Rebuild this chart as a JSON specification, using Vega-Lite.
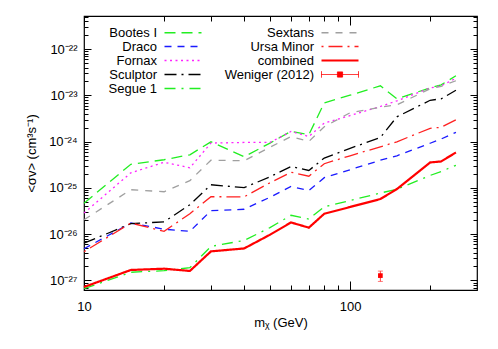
{
  "$schema": "https://vega.github.io/schema/vega-lite/v6.json",
  "width": 393,
  "height": 274,
  "autosize": {"type": "none"},
  "padding": {"left": 84, "top": 16, "right": 21, "bottom": 59},
  "config": {
    "view": {"stroke": "#000", "strokeWidth": 1.2},
    "font": "Liberation Sans",
    "axis": {"domain": false, "grid": false, "labelFont": "Liberation Sans", "labelFontSize": 13, "labelColor": "#000", "tickColor": "#000", "tickWidth": 1, "titleFont": "Liberation Sans", "titleFontSize": 13, "titleFontWeight": "normal", "titleColor": "#000", "labelFlush": false, "labelOverlap": false},
    "legend": {"labelAlign": "right", "labelOffset": -32.5, "symbolOffset": 122.5, "symbolSize": 100, "symbolStrokeWidth": 1.5, "rowPadding": -1.7, "columnPadding": 6, "labelFontSize": 13, "labelFont": "Liberation Sans", "labelColor": "#000", "padding": 0, "labelLimit": 0}
  },
  "datasets": {
    "lim": [
      {"series": "Bootes I", "mass": 10, "sigma": 4.66e-26}, {"series": "Bootes I", "mass": 15, "sigma": 3.24e-25}, {"series": "Bootes I", "mass": 20, "sigma": 4.06e-25}, {"series": "Bootes I", "mass": 25, "sigma": 5.2e-25}, {"series": "Bootes I", "mass": 30, "sigma": 9.9e-25}, {"series": "Bootes I", "mass": 40, "sigma": 4.7e-25}, {"series": "Bootes I", "mass": 50, "sigma": 9.3e-25}, {"series": "Bootes I", "mass": 60, "sigma": 1.67e-24}, {"series": "Bootes I", "mass": 70, "sigma": 1.41e-24}, {"series": "Bootes I", "mass": 80, "sigma": 6.9e-24}, {"series": "Bootes I", "mass": 100, "sigma": 1.01e-23}, {"series": "Bootes I", "mass": 130, "sigma": 1.61e-23}, {"series": "Bootes I", "mass": 150, "sigma": 8.4e-24}, {"series": "Bootes I", "mass": 200, "sigma": 1.46e-23}, {"series": "Bootes I", "mass": 220, "sigma": 1.69e-23}, {"series": "Bootes I", "mass": 250, "sigma": 2.65e-23},
      {"series": "Draco", "mass": 10, "sigma": 4.84e-27}, {"series": "Draco", "mass": 15, "sigma": 1.74e-26}, {"series": "Draco", "mass": 20, "sigma": 1.28e-26}, {"series": "Draco", "mass": 25, "sigma": 1.15e-26}, {"series": "Draco", "mass": 30, "sigma": 3.21e-26}, {"series": "Draco", "mass": 40, "sigma": 3.45e-26}, {"series": "Draco", "mass": 50, "sigma": 6.28e-26}, {"series": "Draco", "mass": 60, "sigma": 1.07e-25}, {"series": "Draco", "mass": 70, "sigma": 8.81e-26}, {"series": "Draco", "mass": 80, "sigma": 1.66e-25}, {"series": "Draco", "mass": 100, "sigma": 2.47e-25}, {"series": "Draco", "mass": 130, "sigma": 3.96e-25}, {"series": "Draco", "mass": 150, "sigma": 4.95e-25}, {"series": "Draco", "mass": 200, "sigma": 9.22e-25}, {"series": "Draco", "mass": 220, "sigma": 1.14e-24}, {"series": "Draco", "mass": 250, "sigma": 1.59e-24},
      {"series": "Fornax", "mass": 10, "sigma": 2.86e-26}, {"series": "Fornax", "mass": 15, "sigma": 2.12e-25}, {"series": "Fornax", "mass": 20, "sigma": 3.58e-25}, {"series": "Fornax", "mass": 25, "sigma": 2.72e-25}, {"series": "Fornax", "mass": 30, "sigma": 9.31e-25}, {"series": "Fornax", "mass": 40, "sigma": 9.59e-25}, {"series": "Fornax", "mass": 50, "sigma": 9.6e-25}, {"series": "Fornax", "mass": 60, "sigma": 1.66e-24}, {"series": "Fornax", "mass": 70, "sigma": 1.29e-24}, {"series": "Fornax", "mass": 80, "sigma": 2.52e-24}, {"series": "Fornax", "mass": 100, "sigma": 3.66e-24}, {"series": "Fornax", "mass": 130, "sigma": 5.75e-24}, {"series": "Fornax", "mass": 150, "sigma": 7.63e-24}, {"series": "Fornax", "mass": 200, "sigma": 1.44e-23}, {"series": "Fornax", "mass": 220, "sigma": 1.61e-23}, {"series": "Fornax", "mass": 250, "sigma": 2.34e-23},
      {"series": "Sculptor", "mass": 10, "sigma": 6.37e-27}, {"series": "Sculptor", "mass": 15, "sigma": 1.68e-26}, {"series": "Sculptor", "mass": 20, "sigma": 1.85e-26}, {"series": "Sculptor", "mass": 25, "sigma": 4.32e-26}, {"series": "Sculptor", "mass": 30, "sigma": 1.17e-25}, {"series": "Sculptor", "mass": 40, "sigma": 1.01e-25}, {"series": "Sculptor", "mass": 50, "sigma": 1.74e-25}, {"series": "Sculptor", "mass": 60, "sigma": 2.9e-25}, {"series": "Sculptor", "mass": 70, "sigma": 2.38e-25}, {"series": "Sculptor", "mass": 80, "sigma": 4.41e-25}, {"series": "Sculptor", "mass": 100, "sigma": 7.15e-25}, {"series": "Sculptor", "mass": 130, "sigma": 1.23e-24}, {"series": "Sculptor", "mass": 150, "sigma": 3.44e-24}, {"series": "Sculptor", "mass": 200, "sigma": 7.83e-24}, {"series": "Sculptor", "mass": 220, "sigma": 8.43e-24}, {"series": "Sculptor", "mass": 250, "sigma": 1.29e-23},
      {"series": "Segue 1", "mass": 10, "sigma": 6.62e-28}, {"series": "Segue 1", "mass": 15, "sigma": 1.5e-27}, {"series": "Segue 1", "mass": 20, "sigma": 1.62e-27}, {"series": "Segue 1", "mass": 25, "sigma": 1.88e-27}, {"series": "Segue 1", "mass": 30, "sigma": 5.43e-27}, {"series": "Segue 1", "mass": 40, "sigma": 7.31e-27}, {"series": "Segue 1", "mass": 50, "sigma": 1.38e-26}, {"series": "Segue 1", "mass": 60, "sigma": 2.56e-26}, {"series": "Segue 1", "mass": 70, "sigma": 2.12e-26}, {"series": "Segue 1", "mass": 80, "sigma": 3.91e-26}, {"series": "Segue 1", "mass": 100, "sigma": 5.32e-26}, {"series": "Segue 1", "mass": 130, "sigma": 7.74e-26}, {"series": "Segue 1", "mass": 150, "sigma": 9.35e-26}, {"series": "Segue 1", "mass": 200, "sigma": 1.86e-25}, {"series": "Segue 1", "mass": 220, "sigma": 2.26e-25}, {"series": "Segue 1", "mass": 250, "sigma": 3.08e-25},
      {"series": "Sextans", "mass": 10, "sigma": 2.05e-26}, {"series": "Sextans", "mass": 15, "sigma": 9.12e-26}, {"series": "Sextans", "mass": 20, "sigma": 8.26e-26}, {"series": "Sextans", "mass": 25, "sigma": 1.43e-25}, {"series": "Sextans", "mass": 30, "sigma": 3.96e-25}, {"series": "Sextans", "mass": 40, "sigma": 3.86e-25}, {"series": "Sextans", "mass": 50, "sigma": 7.55e-25}, {"series": "Sextans", "mass": 60, "sigma": 1.29e-24}, {"series": "Sextans", "mass": 70, "sigma": 1.01e-24}, {"series": "Sextans", "mass": 80, "sigma": 2.1e-24}, {"series": "Sextans", "mass": 100, "sigma": 4.21e-24}, {"series": "Sextans", "mass": 130, "sigma": 5.53e-24}, {"series": "Sextans", "mass": 150, "sigma": 6.26e-24}, {"series": "Sextans", "mass": 200, "sigma": 1.39e-23}, {"series": "Sextans", "mass": 220, "sigma": 1.57e-23}, {"series": "Sextans", "mass": 250, "sigma": 2.07e-23},
      {"series": "Ursa Minor", "mass": 10, "sigma": 4.17e-27}, {"series": "Ursa Minor", "mass": 15, "sigma": 1.74e-26}, {"series": "Ursa Minor", "mass": 20, "sigma": 1.15e-26}, {"series": "Ursa Minor", "mass": 25, "sigma": 2.76e-26}, {"series": "Ursa Minor", "mass": 30, "sigma": 6.44e-26}, {"series": "Ursa Minor", "mass": 40, "sigma": 6.4e-26}, {"series": "Ursa Minor", "mass": 50, "sigma": 1.29e-25}, {"series": "Ursa Minor", "mass": 60, "sigma": 2.18e-25}, {"series": "Ursa Minor", "mass": 70, "sigma": 1.79e-25}, {"series": "Ursa Minor", "mass": 80, "sigma": 3.33e-25}, {"series": "Ursa Minor", "mass": 100, "sigma": 4.95e-25}, {"series": "Ursa Minor", "mass": 130, "sigma": 7.74e-25}, {"series": "Ursa Minor", "mass": 150, "sigma": 9.93e-25}, {"series": "Ursa Minor", "mass": 200, "sigma": 1.94e-24}, {"series": "Ursa Minor", "mass": 220, "sigma": 2.04e-24}, {"series": "Ursa Minor", "mass": 250, "sigma": 2.97e-24},
      {"series": "combined", "mass": 10, "sigma": 7.2e-28}, {"series": "combined", "mass": 15, "sigma": 1.68e-27}, {"series": "combined", "mass": 20, "sigma": 1.79e-27}, {"series": "combined", "mass": 25, "sigma": 1.6e-27}, {"series": "combined", "mass": 30, "sigma": 4.24e-27}, {"series": "combined", "mass": 40, "sigma": 4.91e-27}, {"series": "combined", "mass": 50, "sigma": 9.7e-27}, {"series": "combined", "mass": 60, "sigma": 1.79e-26}, {"series": "combined", "mass": 70, "sigma": 1.38e-26}, {"series": "combined", "mass": 80, "sigma": 2.76e-26}, {"series": "combined", "mass": 100, "sigma": 3.86e-26}, {"series": "combined", "mass": 130, "sigma": 5.74e-26}, {"series": "combined", "mass": 150, "sigma": 9.44e-26}, {"series": "combined", "mass": 200, "sigma": 3.55e-25}, {"series": "combined", "mass": 220, "sigma": 3.73e-25}, {"series": "combined", "mass": 250, "sigma": 5.83e-25}
    ],
    "wen": [{"series": "Weniger (2012)", "mass": 130, "sigma": 1.27e-27, "lo": 0.95e-27, "hi": 1.59e-27}]
  },
  "layer": [
    {
      "data": {"name": "lim"},
      "transform": [{"filter": "datum.series !== 'combined'"}],
      "mark": {"type": "line", "strokeWidth": 1.3},
      "encoding": {
        "x": {"field": "mass", "type": "quantitative", "title": "mᵪ (GeV)",
          "scale": {"type": "log", "domain": [10, 300], "nice": false},
          "axis": {"orient": "bottom", "ticks": false, "values": [10, 100], "format": "d", "labelPadding": 10, "titlePadding": 3}},
        "y": {"field": "sigma", "type": "quantitative", "title": "<σv> (cm³s⁻¹)",
          "scale": {"type": "log", "domain": [6.2e-28, 5.2e-22], "nice": false},
          "axis": {"orient": "left", "ticks": false, "values": [1e-27, 1e-26, 1e-25, 1e-24, 1e-23, 1e-22],
            "labelExpr": "'10⁻²' + ['⁰','¹','²','³','⁴','⁵','⁶','⁷','⁸','⁹'][-round(log(datum.value)/LN10) - 20]",
            "labelPadding": 7, "titlePadding": 10}},
        "color": {"field": "series", "type": "nominal",
          "scale": {"domain": ["Bootes I", "Draco", "Fornax", "Sculptor", "Segue 1", "Sextans", "Ursa Minor", "combined", "Weniger (2012)"], "range": ["#22ee22", "#1a1aff", "#ff22ff", "#000000", "#22ee22", "#a0a0a0", "#ff2020", "#ff0000", "#ff0000"]},
          "legend": {"title": null, "orient": "none", "legendX": -30, "legendY": 10, "columns": 2, "direction": "vertical",
            "encode": {"symbols": {"update": {"size": {"value": 1369}, "angle": {"value": 0}, "strokeWidth": {"signal": "datum.value === 'combined' ? 2.2 : (datum.value === 'Weniger (2012)' ? 1 : 1.4)"}}}}}},
        "strokeDash": {"field": "series", "type": "nominal",
          "scale": {"domain": ["Bootes I", "Draco", "Fornax", "Sculptor", "Segue 1", "Sextans", "Ursa Minor", "combined", "Weniger (2012)"], "range": [[11, 6], [7, 6], [2, 3.5], [12, 5, 2, 5], [11, 6, 2, 6], [7, 7], [2, 5, 14, 5], [1, 0], [1, 0]]},
          "legend": {"title": null, "orient": "none", "legendX": -30, "legendY": 10, "columns": 2, "direction": "vertical",
            "encode": {"symbols": {"update": {"size": {"value": 1369}, "angle": {"value": 0}, "strokeWidth": {"signal": "datum.value === 'combined' ? 2.2 : (datum.value === 'Weniger (2012)' ? 1 : 1.4)"}}}}}}
      }
    },
    {
      "data": {"name": "lim"},
      "transform": [{"filter": "datum.series === 'combined'"}],
      "mark": {"type": "line", "strokeWidth": 2.2},
      "encoding": {
        "x": {"field": "mass", "type": "quantitative", "title": null,
          "axis": {"orient": "bottom", "labels": false, "values": [10, 20, 30, 40, 50, 60, 70, 80, 90, 100, 200], "tickSize": {"condition": {"test": "datum.value == 10 || datum.value == 100", "value": -9}, "value": -5}}},
        "y": {"field": "sigma", "type": "quantitative", "title": null,
          "axis": {"orient": "left", "labels": false, "values": [7e-28, 8e-28, 9e-28, 1e-27, 2e-27, 3e-27, 4e-27, 5e-27, 6e-27, 7e-27, 8e-27, 9e-27, 1e-26, 2e-26, 3e-26, 4e-26, 5e-26, 6e-26, 7e-26, 8e-26, 9e-26, 1e-25, 2e-25, 3e-25, 4e-25, 5e-25, 6e-25, 7e-25, 8e-25, 9e-25, 1e-24, 2e-24, 3e-24, 4e-24, 5e-24, 6e-24, 7e-24, 8e-24, 9e-24, 1e-23, 2e-23, 3e-23, 4e-23, 5e-23, 6e-23, 7e-23, 8e-23, 9e-23, 1e-22, 2e-22, 3e-22, 4e-22, 5e-22],
            "tickSize": {"condition": {"test": "abs(log(datum.value)/LN10 - round(log(datum.value)/LN10)) < 0.01", "value": -7}, "value": -4}}},
        "color": {"field": "series", "type": "nominal"},
        "strokeDash": {"field": "series", "type": "nominal"}
      }
    },
    {
      "data": {"name": "wen"},
      "mark": {"type": "point", "filled": true, "size": 16, "angle": 90, "stroke": "#ff0000", "strokeWidth": 1, "opacity": 1},
      "encoding": {
        "x": {"field": "mass", "type": "quantitative", "title": null,
          "axis": {"orient": "top", "labels": false, "values": [10, 20, 30, 40, 50, 60, 70, 80, 90, 100, 200], "tickSize": {"condition": {"test": "datum.value == 10 || datum.value == 100", "value": -9}, "value": -5}}},
        "y": {"field": "sigma", "type": "quantitative", "title": null,
          "axis": {"orient": "right", "labels": false, "values": [7e-28, 8e-28, 9e-28, 1e-27, 2e-27, 3e-27, 4e-27, 5e-27, 6e-27, 7e-27, 8e-27, 9e-27, 1e-26, 2e-26, 3e-26, 4e-26, 5e-26, 6e-26, 7e-26, 8e-26, 9e-26, 1e-25, 2e-25, 3e-25, 4e-25, 5e-25, 6e-25, 7e-25, 8e-25, 9e-25, 1e-24, 2e-24, 3e-24, 4e-24, 5e-24, 6e-24, 7e-24, 8e-24, 9e-24, 1e-23, 2e-23, 3e-23, 4e-23, 5e-23, 6e-23, 7e-23, 8e-23, 9e-23, 1e-22, 2e-22, 3e-22, 4e-22, 5e-22],
            "tickSize": {"condition": {"test": "abs(log(datum.value)/LN10 - round(log(datum.value)/LN10)) < 0.01", "value": -7}, "value": -4}}},
        "color": {"field": "series", "type": "nominal"},
        "shape": {"field": "series", "type": "nominal",
          "scale": {"domain": ["Bootes I", "Draco", "Fornax", "Sculptor", "Segue 1", "Sextans", "Ursa Minor", "combined", "Weniger (2012)"], "range": ["stroke", "stroke", "stroke", "stroke", "stroke", "stroke", "stroke", "stroke", "M-1,-0.17V0.17M-1,0H1M1,-0.17V0.17M-0.14,-0.14H0.14V0.14H-0.14Z"]},
          "legend": {"title": null, "orient": "none", "legendX": -30, "legendY": 10, "columns": 2, "direction": "vertical",
            "encode": {"symbols": {"update": {"size": {"value": 1369}, "angle": {"value": 0}, "strokeWidth": {"signal": "datum.value === 'combined' ? 2.2 : (datum.value === 'Weniger (2012)' ? 1 : 1.4)"}}}}}}
      }
    },
    {
      "data": {"name": "wen"},
      "mark": {"type": "rule", "color": "#ff4040", "strokeWidth": 1},
      "encoding": {
        "x": {"field": "mass", "type": "quantitative", "axis": null},
        "y": {"field": "lo", "type": "quantitative", "axis": null},
        "y2": {"field": "hi"}
      }
    },
    {
      "data": {"name": "wen"},
      "mark": {"type": "tick", "orient": "horizontal", "color": "#ff4040", "size": 5, "thickness": 1},
      "encoding": {
        "x": {"field": "mass", "type": "quantitative", "axis": null},
        "y": {"field": "lo", "type": "quantitative", "axis": null}
      }
    },
    {
      "data": {"name": "wen"},
      "mark": {"type": "tick", "orient": "horizontal", "color": "#ff4040", "size": 5, "thickness": 1},
      "encoding": {
        "x": {"field": "mass", "type": "quantitative", "axis": null},
        "y": {"field": "hi", "type": "quantitative", "axis": null}
      }
    },
    {
      "data": {"name": "wen"},
      "mark": {"type": "point", "shape": "square", "filled": true, "size": 22, "color": "#ff0000", "opacity": 1},
      "encoding": {
        "x": {"field": "mass", "type": "quantitative", "axis": null},
        "y": {"field": "sigma", "type": "quantitative", "axis": null}
      }
    }
  ],
  "resolve": {"axis": {"x": "independent", "y": "independent"}}
}
